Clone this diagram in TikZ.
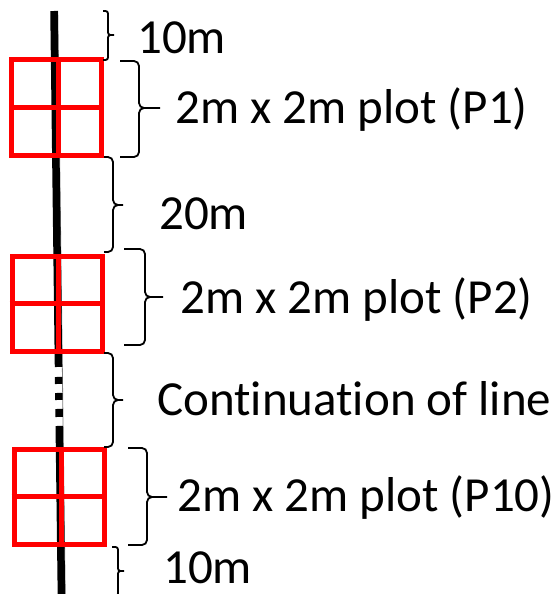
\documentclass[tikz,border=0pt]{standalone}
\usepackage{fontspec}
\setmainfont{Carlito}[Ligatures=NoCommon]
\usetikzlibrary{positioning}
\usetikzlibrary{calc}
\tikzset{brc/.style={line width=1.8pt, rounded corners=5pt}}
\tikzset{smallbrc/.style={brc, rounded corners=2.5pt}}
\tikzset{plotbox/.style={draw=red, line width=5pt, minimum width=90pt, minimum height=95pt, inner sep=0pt}}
\tikzset{plotgrid/.style={draw=red, line width=5pt}}
\tikzset{lbl/.style={anchor=base west, inner sep=0pt, font=\fontsize{49}{58}\selectfont}}
\tikzset{transect/.style={line width=7.5pt, dash pattern=on 356pt off 10pt on 7pt off 9pt on 7pt off 9pt on 8pt off 9pt on 300pt off 1pt}}

\begin{document}
\begin{tikzpicture}[x=1pt,y=-1pt]
\useasboundingbox (0,0) rectangle (556,594);

% the line
\coordinate (top) at (54,11);
\coordinate (bot) at (61.5,600);
\draw[gray, line width=0.8pt] ($(top)+(3.8,0)$) -- ($(bot)+(3.8,0)$);
\draw[transect] (top) -- (bot);

% plots
\node[plotbox] (P1) at (56.5,107.5) {};
\node[plotbox] (P2) at (57,303.5) {};
\node[plotbox] (P10) at (59,496.5) {};
\draw[plotgrid] ([xshift=1.5pt]P1.north) -- ([xshift=1.5pt]P1.south)
  (P1.west) -- (P1.east);
\draw[plotgrid] ([xshift=1pt]P2.north) -- ([xshift=1pt]P2.south)
  (P2.west) -- (P2.east);
\draw[plotgrid] ([xshift=2pt]P10.north) -- ([xshift=2pt]P10.south)
  (P10.west) -- (P10.east);

% braces
\coordinate (b1t) at (103,11);
\coordinate (b1b) at (103,60);
\coordinate (b1m) at (114,35);
\draw[smallbrc] (b1t) -| ([xshift=-6pt]b1m) -- (b1m)
  (b1b) -| ([xshift=-6pt]b1m) -- (b1m);

\coordinate (b2t) at (120,61);
\coordinate (b2b) at (120,157);
\coordinate (b2m) at (160,108);
\draw[brc] (b2t) -| ([xshift=-21pt]b2m) -- (b2m)
  (b2b) -| ([xshift=-21pt]b2m) -- (b2m);

\coordinate (b3t) at (104,157);
\coordinate (b3b) at (104,252);
\coordinate (b3m) at (123,205);
\draw[brc] (b3t) -| ([xshift=-10pt]b3m) -- (b3m)
  (b3b) -| ([xshift=-10pt]b3m) -- (b3m);

\coordinate (b4t) at (124,249);
\coordinate (b4b) at (124,345);
\coordinate (b4m) at (163,297);
\draw[brc] (b4t) -| ([xshift=-18pt]b4m) -- (b4m)
  (b4b) -| ([xshift=-18pt]b4m) -- (b4m);

\coordinate (b5t) at (104,353);
\coordinate (b5b) at (104,447);
\coordinate (b5m) at (123,400);
\draw[brc] (b5t) -| ([xshift=-10pt]b5m) -- (b5m)
  (b5b) -| ([xshift=-10pt]b5m) -- (b5m);

\coordinate (b6t) at (128,448);
\coordinate (b6b) at (128,545);
\coordinate (b6m) at (167,497);
\draw[brc] (b6t) -| ([xshift=-20pt]b6m) -- (b6m)
  (b6b) -| ([xshift=-20pt]b6m) -- (b6m);

\coordinate (b7t) at (112,547);
\coordinate (b7b) at (112,596);
\coordinate (b7m) at (124,571);
\draw[smallbrc] (b7t) -| ([xshift=-6pt]b7m) -- (b7m)
  (b7b) -| ([xshift=-6pt]b7m) -- (b7m);

% labels
\node[lbl] (t10a) at (137,53) {10m};
\node[lbl] (tP1) at (175,123) {2m x 2m plot (P1)};
\node[lbl] (t20) at (159,229) {20m};
\node[lbl] (tP2) at (180,313) {2m x 2m plot (P2)};
\node[lbl] (tcont) at (157,415) {Continuation of line};
\node[lbl] (tP10) at (177,511) {2m x 2m plot (P10)};
\node[lbl] (t10b) at (163,583) {10m};

\end{tikzpicture}
\end{document}
